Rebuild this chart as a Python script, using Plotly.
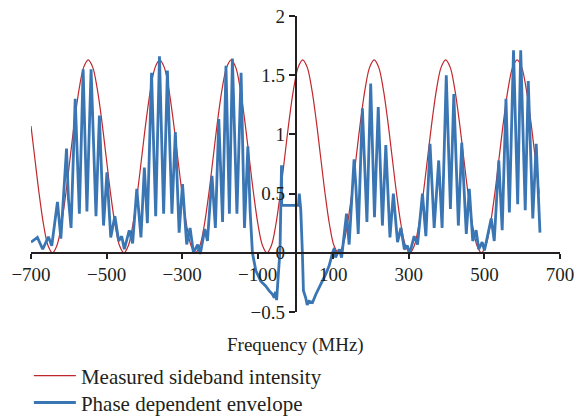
import numpy as np
import plotly.graph_objects as go

# x axis ticks
x_ticks = [-700, -500, -300, -100, 100, 300, 500, 700]
x_ticktext = ["\u2212700", "\u2212500", "\u2212300", "\u2212100", "100", "300", "500", "700"]
y_ticks = [-0.5, 0, 0.5, 1, 1.5, 2]
y_ticktext = ["\u22120.5", "0", "0.5", "1", "1.5", "2"]

# measured sideband intensity (red), sampled every ~11.8 MHz
red_x = [-700] + list(-690.5 + 11.825 * np.arange(113)) + [645]
red_y = [1.07,
         0.815, 0.503, 0.239, 0.062, 0.0, 0.062, 0.239, 0.503, 0.815, 1.127, 1.39, 1.568, 1.63, 1.568, 1.39, 1.127,
         0.815, 0.503, 0.239, 0.062, 0.0, 0.062, 0.239, 0.503, 0.815, 1.127, 1.39, 1.568, 1.63, 1.568, 1.39, 1.127,
         0.815, 0.503, 0.239, 0.062, 0.0, 0.062, 0.239, 0.503, 0.815, 1.127, 1.39, 1.568, 1.63, 1.568, 1.39, 1.127,
         0.815, 0.503, 0.239, 0.062, 0.0, 0.062, 0.239, 0.503, 0.815, 1.127, 1.39, 1.568, 1.63, 1.568, 1.39, 1.127,
         0.815, 0.503, 0.239, 0.062, 0.0, 0.062, 0.239, 0.503, 0.815, 1.127, 1.39, 1.568, 1.63, 1.568, 1.39, 1.127,
         0.815, 0.503, 0.239, 0.062, 0.0, 0.062, 0.239, 0.503, 0.815, 1.127, 1.39, 1.568, 1.63, 1.568, 1.39, 1.127,
         0.815, 0.503, 0.239, 0.062, 0.0, 0.062, 0.239, 0.503, 0.815, 1.127, 1.39, 1.568, 1.63, 1.568, 1.39, 1.127,
         0.815,
         0.5]

# phase dependent envelope (blue), peaks and troughs
blue_x = [-700, -683, -669, -654, -645, -630, -621, -606, -601, -594, -583, -572, -562, -552,
          -541, -528, -519, -508, -499, -489, -478, -468, -460, -453, -440, -431, -420, -409,
          -400, -392, -381, -370, -360, -349, -339, -327, -318, -308, -299, -288, -279, -270,
          -259, -252, -240, -233, -221, -212, -203, -193, -184, -175, -167, -155, -144, -135,
          -126, -120, -114, -105, -92, -79, -70, -61, -56, -53, -50, -49, -46, -41, -37, -36.5,
          8, 10, 14, 18, 21, 27, 31, 36, 45, 54, 67, 80, 89, 94, 98, 103, 106, 116, 122, 135,
          142, 155, 160, 166, 177, 189, 199, 209, 219, 230, 239, 250, 259, 270, 279, 288, 296,
          302, 314, 323, 336, 345, 356, 367, 379, 388, 399, 410, 419, 431, 440, 452, 460, 469,
          478, 485, 494, 500, 518, 526, 538, 547, 557, 566, 577, 588, 596, 608, 616, 628, 637, 647]
blue_y = [0.09, 0.13, 0.03, 0.135, 0.06, 0.43, 0.12, 0.88, 0.46, 0.21, 1.30, 0.33, 1.55, 0.35,
          1.55, 0.31, 1.16, 0.23, 0.68, 0.13, 0.31, 0.10, 0.14, 0.03, 0.19, 0.08, 0.54, 0.13,
          0.72, 0.25, 1.52, 0.31, 1.66, 0.33, 1.54, 0.33, 1.02, 0.17, 0.58, 0.07, 0.21, 0.00,
          0.07, -0.01, 0.20, 0.10, 0.65, 0.21, 1.13, 0.26, 1.58, 0.33, 1.64, 0.33, 1.52, 0.21,
          0.90, 0.35, 0.0, -0.15, -0.24, -0.28, -0.32, -0.35, -0.38, -0.33, -0.40, -0.32, -0.21, 0.02, 0.74, 0.40,
          0.40, 0.50, 0.36, 0.02, -0.32, -0.38, -0.44, -0.41, -0.42, -0.35, -0.27, -0.18, -0.11, -0.04, 0.0, 0.04, -0.04, 0.03, -0.04, 0.33,
          0.07, 0.79, 0.55, 0.16, 1.22, 0.26, 1.43, 0.30, 1.23, 0.23, 0.91, 0.13, 0.50, 0.09, 0.21, 0.03, 0.06,
          -0.01, 0.14, 0.07, 0.50, 0.14, 0.92, 0.21, 0.78, 0.21, 1.50, 0.37, 1.34, 0.23, 0.93, 0.16, 0.54, 0.10,
          0.19, 0.03, 0.09, 0.02, 0.29, 0.10, 0.78, 0.19, 1.30, 0.34, 1.71, 0.41, 1.71, 0.36, 1.45, 0.29, 0.92, 0.17]

ink = "#231f20"

fig = go.Figure()
fig.add_trace(go.Scatter(x=red_x, y=red_y, mode="lines", name="Measured sideband intensity",
                         line=dict(color="#c0282d", width=1.2, shape="spline"),
                         legend="legend", showlegend=True))
fig.add_trace(go.Scatter(x=blue_x, y=blue_y, mode="lines", name="Phase dependent envelope",
                         line=dict(color="#3a76b4", width=2.8),
                         legend="legend2", showlegend=True))

leg = dict(x=-0.004, xanchor="left", yanchor="middle", itemwidth=42,
           font=dict(size=21), bgcolor="rgba(0,0,0,0)")

fig.update_layout(
    width=578, height=416,
    margin=dict(l=31, r=18, t=16, b=104, autoexpand=False),
    plot_bgcolor="white", paper_bgcolor="white",
    font=dict(family="Liberation Serif", size=19, color=ink),
    showlegend=True,
    legend=dict(leg, y=-0.216),
    legend2=dict(leg, y=-0.307),
    xaxis=dict(range=[-700, 700], tickvals=x_ticks, ticktext=x_ticktext,
               anchor="free", position=0.2, showline=True, linecolor=ink, linewidth=1.5,
               ticks="outside", ticklen=5, tickwidth=1.5, tickcolor=ink,
               showgrid=False, zeroline=False, automargin=False, ticklabeloverflow="allow"),
    yaxis=dict(range=[-0.5, 2], tickvals=y_ticks, ticktext=y_ticktext,
               anchor="free", position=0.5, showline=True, linecolor=ink, linewidth=1.5,
               ticks="outside", ticklen=6, tickwidth=1.5, tickcolor=ink,
               showgrid=False, zeroline=False, automargin=False, ticklabeloverflow="allow"),
    annotations=[dict(text="Frequency (MHz)", x=0.5, y=-0.111, xref="paper", yref="paper",
                      xanchor="center", yanchor="middle", showarrow=False,
                      font=dict(size=19, color=ink))],
)

# drop the default 8px body margin so the figure fills the window
fig.write_html("out.html", config={"displayModeBar": False},
               post_script="document.body.style.margin = '0';")
